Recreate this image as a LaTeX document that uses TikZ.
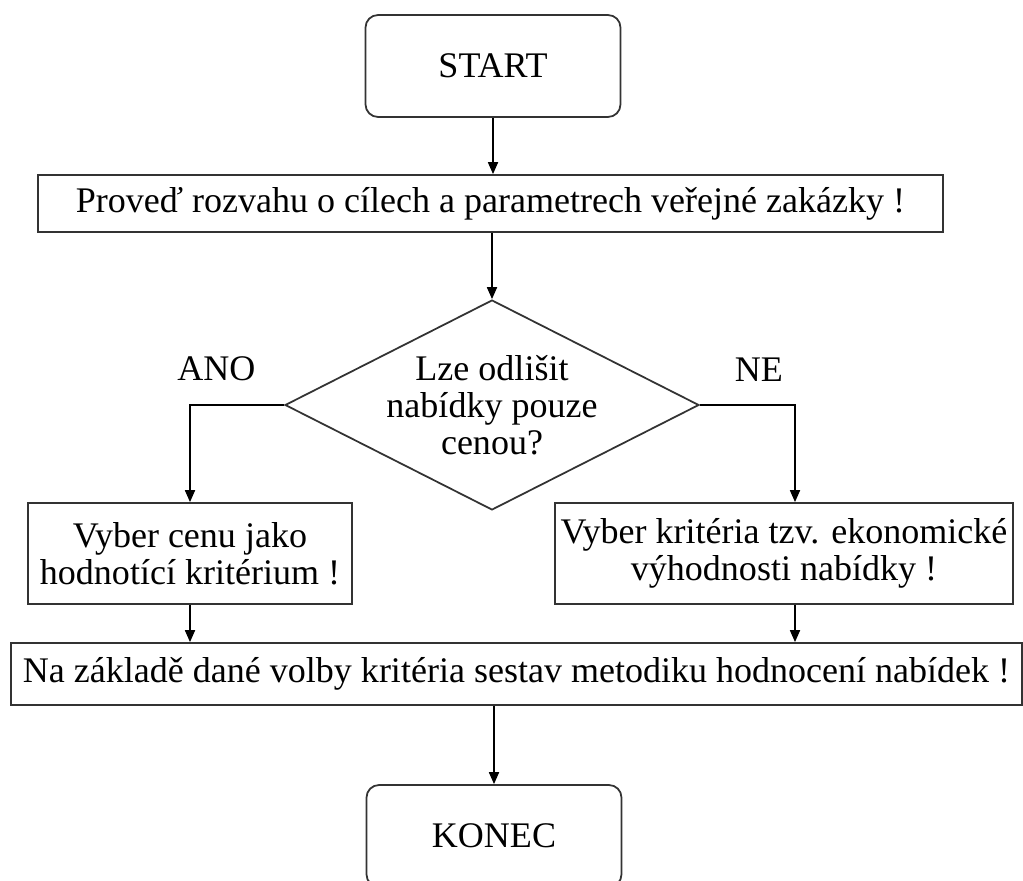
\documentclass[tikz,border=0pt]{standalone}
\usepackage{fontspec}
\setmainfont{Liberation Serif}
\usetikzlibrary{arrows.meta,shapes.geometric,positioning}

\begin{document}
\begin{tikzpicture}[x=0.02cm,y=-0.02cm,->,>={Triangle[length=0.24cm,width=0.2cm]},
    line width=1pt,font=\fontsize{20.5}{21}\selectfont,
    krok/.style={draw=black!80,rectangle,align=center,inner sep=2pt},
    mez/.style={krok,rounded corners=0.25cm,minimum width=5.1cm,minimum height=2.04cm},
    rozhod/.style={draw=black!80,diamond,shape aspect=2,align=center,inner sep=0pt,
        minimum width=8.28cm,minimum height=4.2cm}]

    \useasboundingbox (0,0) rectangle (1023,881);
    \clip (0,0) rectangle (1023,881);

    \node[mez]  (start)    at (493,66)      {START};
    \node[krok,minimum width=18.1cm,minimum height=1.14cm]
                (rozvaha)  at (490.5,203.5) {Proveď rozvahu o cílech a parametrech veřejné zakázky !};
    \node[rozhod] (dec)    at (492,405)     {Lze odlišit\\nabídky pouze\\cenou?};
    \node[krok,minimum width=6.48cm,minimum height=2.02cm]
                (cena)     at (190,553.5)   {Vyber cenu jako\\hodnotící kritérium !};
    \node[krok,minimum width=9.16cm,minimum height=2.02cm]
                (ekon)     at (784,553.5)   {Vyber kritéria tzv. ekonomické\\výhodnosti nabídky !};
    \node[krok,minimum width=20.22cm,minimum height=1.24cm]
                (metodika) at (516.5,674)   {Na základě dané volby kritéria sestav metodiku hodnocení nabídek !};
    \node[mez]  (konec)    at (494,836)     {KONEC};

    \draw (start) -- (start |- rozvaha.north);
    \draw (rozvaha.south -| dec) -- (dec);
    \draw (dec.west) -| node[pos=0.36,above=0.34cm] {ANO} (cena.north);
    \draw (dec.east) -| node[pos=0.31,above=0.34cm] {NE} ([xshift=0.22cm]ekon.north);
    \draw (cena) -- (cena |- metodika.north);
    \draw ([xshift=0.22cm]ekon.south) -- ([xshift=0.22cm]ekon.south |- metodika.north);
    \draw (metodika.south -| konec) -- (konec);
\end{tikzpicture}
\end{document}
